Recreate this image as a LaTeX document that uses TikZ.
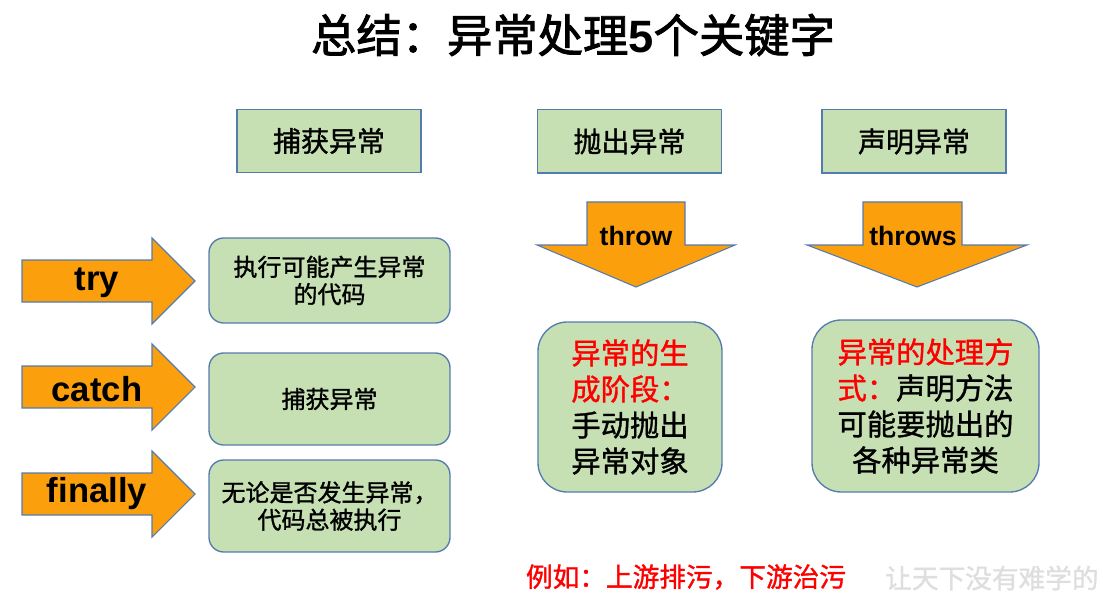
\documentclass[tikz,border=0pt]{standalone}
\usepackage{fontspec}
\setmainfont{Noto Sans CJK SC}[FakeBold=1.2]
\newfontfamily\titlefont{Noto Sans CJK SC}[FakeBold=2]
\newfontfamily\lat{Liberation Sans}
\definecolor{boxgreen}{RGB}{198,224,180}
\definecolor{boxedge}{RGB}{84,123,176}
\definecolor{arroworange}{RGB}{251,160,12}
\definecolor{wmgray}{RGB}{222,222,222}
\tikzset{
  sqbox/.style={draw=boxedge, line width=1pt, fill=boxgreen, inner sep=0pt, minimum width=138pt, minimum height=47.5pt, font=\fontsize{21}{24}\selectfont},
  lbox/.style={draw=boxedge, line width=1pt, fill=boxgreen, rounded corners=11pt, inner sep=0pt, minimum width=180.75pt, align=center, font=\fontsize{18}{20.5}\selectfont},
  rbox/.style={draw=boxedge, line width=1pt, fill=boxgreen, rounded corners=22pt, inner sep=0pt, align=center, font=\fontsize{22}{27}\selectfont},
  arrowfill/.style={draw=boxedge, line width=0.8pt, fill=arroworange},
  kw/.style={font=\lat\bfseries\fontsize{26}{30}\selectfont, inner sep=0pt},
  kwd/.style={font=\lat\bfseries\fontsize{20}{24}\selectfont, inner sep=0pt},
  rarr/.pic={\path[arrowfill] (-75,-21) -- (55,-21) -- (55,-43) -- (98,0) -- (55,43) -- (55,21) -- (-75,21) -- cycle;}
}
\begin{document}
\begin{tikzpicture}[x=0.75pt,y=-0.75pt]
\useasboundingbox (0,0) rectangle (1103,606);
% title
\node[font=\titlefont\fontsize{34}{40}\selectfont, inner sep=0pt] (title) at (573,35) {总结：异常处理{\lat\bfseries 5}个关键字};
% top boxes
\node[sqbox] (cap) at (329,141) {捕获异常};
\node[sqbox] (pao) at (629.5,141.5) {抛出异常};
\node[sqbox] (sheng) at (914,141.5) {声明异常};
% right arrows
\path (97,281) pic {rarr};
\path (97,387) pic {rarr};
\path (97,494) pic {rarr};
\node[kw] (try) at (97,283) {try};
\node[kw] (catch) at (97,389) {catch};
\node[kw] (finally) at (97,494) {finally};
% left boxes
\node[lbox, minimum height=63.75pt] (b1) at (329.5,280.5) {执行可能产生异常\\的代码};
\node[lbox, minimum height=69pt] (b2) at (329.5,399) {捕获异常};
\node[lbox, minimum height=69pt] (b3) at (329.5,506) {无论是否发生异常，\\代码总被执行};
% down arrows
\path[arrowfill] (587,202) -- (685,202) -- (685,245) -- (735,245) -- (636,287) -- (537,245) -- (587,245) -- cycle;
\path[arrowfill] (863,202) -- (962,202) -- (962,245) -- (1027,245) -- (917,287) -- (807,245) -- (863,245) -- cycle;
\node[kwd] (throw) at (636,236) {throw};
\node[kwd] (throws) at (913,236) {throws};
% right boxes
\node[rbox, minimum width=138pt, minimum height=127.5pt] (ra) at (630,407) {\textcolor{red}{异常的生}\\\textcolor{red}{成阶段：}\\手动抛出\\异常对象};
\node[rbox, minimum width=170.25pt, minimum height=129pt] (rb) at (925.5,406) {\textcolor{red}{异常的处理方}\\\textcolor{red}{式：}声明方法\\可能要抛出的\\各种异常类};
% bottom text
\node[text=red, font=\fontsize{20}{22}\selectfont, inner sep=0pt] (eg) at (686,577) {例如：上游排污，下游治污};
\node[text=wmgray, font=\fontsize{20}{22}\selectfont, inner sep=0pt, anchor=west] (wm) at (885,578) {让天下没有难学的};
\end{tikzpicture}
\end{document}
